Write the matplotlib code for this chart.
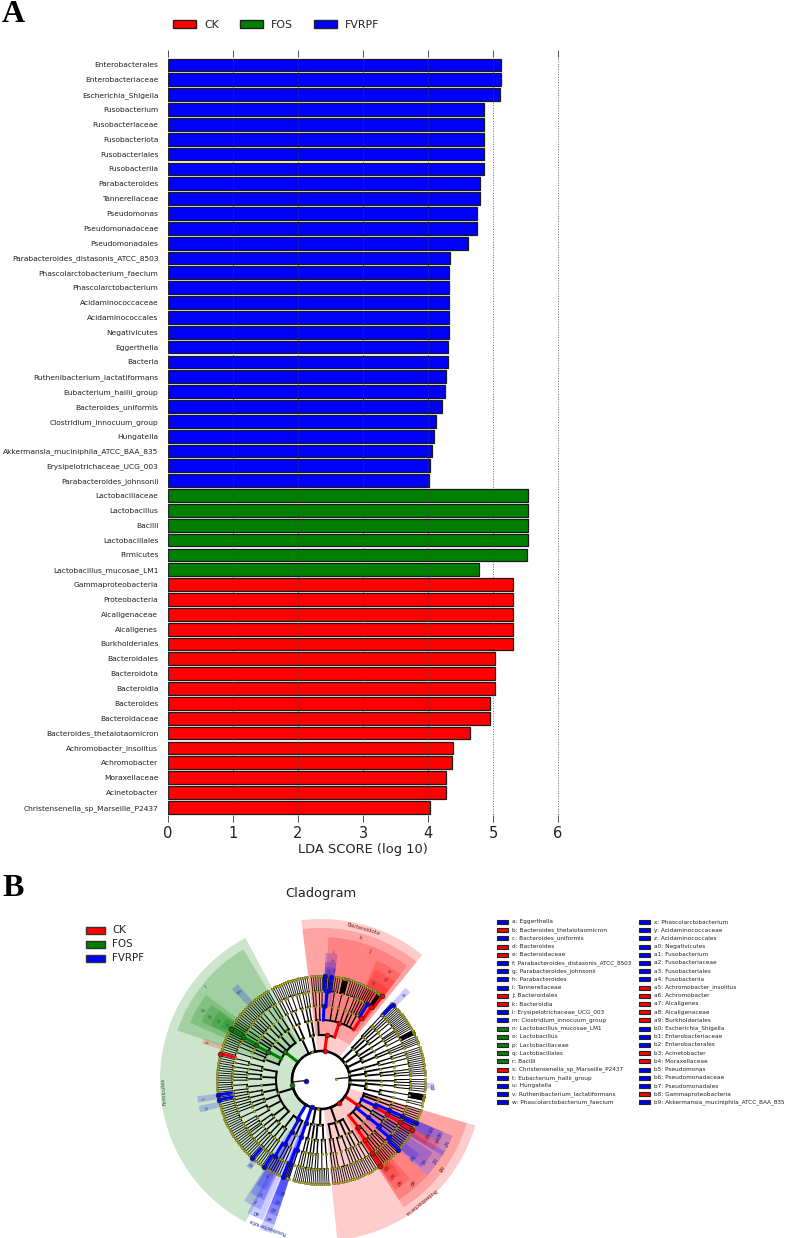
# -*- coding: utf-8 -*-
"""LEfSe LDA score bars (A) and cladogram (B)."""

import numpy as np
import matplotlib
matplotlib.use("Agg")
import matplotlib.pyplot as plt
from matplotlib.patches import Rectangle

WIDTH, HEIGHT = 785, 1238
RED, GREEN, BLUE = "#ff0000", "#008000", "#0000ff"

# -------------------------------------------------------------------
# Panel A data
# -------------------------------------------------------------------
TAXA = [
    "Enterobacterales", "Enterobacteriaceae", "Escherichia_Shigella", "Fusobacterium",
    "Fusobacteriaceae", "Fusobacteriota", "Fusobacteriales", "Fusobacteriia",
    "Parabacteroides", "Tannerellaceae", "Pseudomonas", "Pseudomonadaceae",
    "Pseudomonadales", "Parabacteroides_distasonis_ATCC_8503", "Phascolarctobacterium_faecium",
    "Phascolarctobacterium", "Acidaminococcaceae", "Acidaminococcales", "Negativicutes",
    "Eggerthella", "Bacteria", "Ruthenibacterium_lactatiformans", "Eubacterium_hallii_group",
    "Bacteroides_uniformis", "Clostridium_innocuum_group", "Hungatella",
    "Akkermansia_muciniphila_ATCC_BAA_835", "Erysipelotrichaceae_UCG_003",
    "Parabacteroides_johnsonii",
    "Lactobacillaceae", "Lactobacillus", "Bacilli", "Lactobacillales", "Firmicutes",
    "Lactobacillus_mucosae_LM1",
    "Gammaproteobacteria", "Proteobacteria", "Alcaligenaceae", "Alcaligenes", "Burkholderiales",
    "Bacteroidales", "Bacteroidota", "Bacteroidia", "Bacteroides", "Bacteroidaceae",
    "Bacteroides_thetaiotaomicron", "Achromobacter_insolitus", "Achromobacter", "Moraxellaceae",
    "Acinetobacter", "Christensenella_sp_Marseille_P2437",
]
SCORES_FVRPF = [5.12, 5.12, 5.11, 4.86, 4.86, 4.86, 4.86, 4.86, 4.80, 4.80, 4.75, 4.75, 4.61,
                4.34, 4.32, 4.32, 4.32, 4.32, 4.32, 4.30, 4.30, 4.27, 4.26, 4.22, 4.13, 4.09,
                4.06, 4.03, 4.01]
SCORES_FOS = [5.54, 5.54, 5.54, 5.54, 5.52, 4.78]
SCORES_CK = [5.31, 5.31, 5.30, 5.30, 5.30, 5.03, 5.03, 5.03, 4.96, 4.96, 4.64, 4.39, 4.37,
             4.28, 4.28, 4.03]

# -------------------------------------------------------------------
# Panel B data
# -------------------------------------------------------------------
KEY_1 = ["a: Eggerthella", "b: Bacteroides_thetaiotaomicron", "c: Bacteroides_uniformis",
         "d: Bacteroides", "e: Bacteroidaceae", "f: Parabacteroides_distasonis_ATCC_8503",
         "g: Parabacteroides_johnsonii", "h: Parabacteroides", "i: Tannerellaceae",
         "j: Bacteroidales", "k: Bacteroidia", "l: Erysipelotrichaceae_UCG_003",
         "m: Clostridium_innocuum_group", "n: Lactobacillus_mucosae_LM1", "o: Lactobacillus",
         "p: Lactobacillaceae", "q: Lactobacillales", "r: Bacilli",
         "s: Christensenella_sp_Marseille_P2437", "t: Eubacterium_hallii_group", "u: Hungatella",
         "v: Ruthenibacterium_lactatiformans", "w: Phascolarctobacterium_faecium"]
KEY_1_COLORS = "BRBRRBBBBRRBBGGGGGRBBBB"
KEY_2 = ["x: Phascolarctobacterium", "y: Acidaminococcaceae", "z: Acidaminococcales",
         "a0: Negativicutes", "a1: Fusobacterium", "a2: Fusobacteriaceae", "a3: Fusobacteriales",
         "a4: Fusobacteriia", "a5: Achromobacter_insolitus", "a6: Achromobacter",
         "a7: Alcaligenes", "a8: Alcaligenaceae", "a9: Burkholderiales",
         "b0: Escherichia_Shigella", "b1: Enterobacteriaceae", "b2: Enterobacterales",
         "b3: Acinetobacter", "b4: Moraxellaceae", "b5: Pseudomonas", "b6: Pseudomonadaceae",
         "b7: Pseudomonadales", "b8: Gammaproteobacteria",
         "b9: Akkermansia_muciniphila_ATCC_BAA_835"]
KEY_2_COLORS = "BBBBBBBBRRRRRBBBRRBBBRB"

# node radii per taxonomic level, in pixels
RADII = [29, 45, 60, 74, 89, 104]

# nested: class > order > family > genus (species count, negative = crowded fan)
SECTORS = [
    ("bacteroidota", 53, 96, [[[[-9, 1], [1, 1], [1, 1], [1], [2], [-9], [2], [2, 1]],
                               [[1], [1, 1]]]]),
    ("misc_top", 97, 119, [[[[1, 1]], [[1], [1, 1]]], [[[2, 1], [1]], [[1, 1]]]]),
    ("firmicutes", 120, 247, [
        [[[1, 1], [2]], [[1], [1, 1]], [[1, 1, 1]], [[1], [1]],
         [[1], [1, 1], [1]], [[1], [2]]],
        [[[1, 2], [1]], [[1, 1], [1, 1]], [[2, 1]], [[1, 1], [1, 1]], [[1, 1], [1]],
         [[2], [1, 1]], [[1, 1, 1], [1]], [[1, 1], [1, 1]]],
        [[[1, 1], [1, 1]], [[2, 1]], [[1, 1]]],
    ]),
    ("fusobacteriota", 248, 252.5, [[[[2, 1]]]]),
    ("misc_bottom", 254, 275, [[[[1, 1], [1]], [[1, 1]]], [[[1], [1, 1]], [[2], [1]]]]),
    ("proteobacteria", 276, 344, [
        [[[1, 1], [1]], [[2], [1, 1]], [[1, 1]], [[1], [1, 2]]],
        [[[1, 1], [1, 1]], [[1, 1, 1]], [[2, 1]], [[1, 1], [1]], [[1, 1], [1]],
         [[1, 1]], [[1]]],
    ]),
    ("others_low", 345, 361, [[[[1], [-8]], [[1, 1]]], [[[1, 1]]]]),
    ("others_high", 2, 19, [[[[1, 1], [1]], [[2]]], [[[1], [1, 1]]]]),
    ("actinobacteriota", 20, 48, [[[[1, 1], [1]], [[-8, 1]]],
                                  [[[1, 1, 1]], [[2], [1]]], [[[1, 1]], [[1], [1]]]]),
]

# highlighted nodes: sector -> {path: colour}
MARKED = {
    "bacteroidota": {(): RED, (0,): RED, (0, 0): RED, (0, 0, 0): RED, (0, 0, 0, 0): RED,
                     (0, 0, 0, 0, 0): RED, (0, 0, 0, 1): BLUE, (0, 0, 7): BLUE,
                     (0, 0, 7, 0): BLUE, (0, 0, 7, 0, 0): BLUE, (0, 0, 7, 0, 3): BLUE},
    "firmicutes": {(): GREEN, (0,): GREEN, (0, 4): GREEN, (0, 4, 1): GREEN, (0, 4, 1, 0): GREEN,
                   (0, 4, 1, 0, 0): GREEN, (1, 0, 0, 0, 0): RED, (1, 3, 0, 0, 0): BLUE,
                   (1, 3, 0, 1, 0): BLUE, (2,): BLUE, (2, 1): BLUE, (2, 1, 0): BLUE,
                   (2, 1, 0, 0): BLUE, (2, 1, 0, 0, 0): BLUE, (2, 0, 0, 0, 0): BLUE},
    "fusobacteriota": {(): BLUE, (0,): BLUE, (0, 0): BLUE, (0, 0, 0): BLUE, (0, 0, 0, 0): BLUE,
                       (0, 0, 0, 0, 0): BLUE},
    "proteobacteria": {(): RED, (1,): RED, (1, 0): RED, (1, 0, 0): RED, (1, 0, 0, 0): RED,
                       (1, 0, 0, 0, 0): RED, (1, 2): BLUE, (1, 2, 0): BLUE, (1, 2, 0, 0): BLUE,
                       (1, 2, 0, 0, 0): BLUE, (1, 4): BLUE, (1, 4, 0): RED, (1, 4, 0, 0): RED,
                       (1, 4, 0, 0, 0): RED, (1, 4, 1): BLUE, (1, 4, 1, 0): BLUE,
                       (1, 4, 1, 0, 0): BLUE},
    "others_low": {(0, 0, 0, 1, 0): BLUE},
    "actinobacteriota": {(2, 1, 1, 0, 0): BLUE},
}

# shaded clades: start deg, end deg, inner r, outer r, colour
WEDGES = [
    (118, 242, 29, 161, GREEN), (120.7, 161, 45, 152, GREEN), (143.5, 156.4, 60, 143, GREEN),
    (145.5, 154, 74, 133, GREEN), (146, 153.5, 89, 123, GREEN), (147, 152, 104, 113, GREEN),
    (51, 97, 29, 161, RED), (51, 97, 45, 152, RED), (53, 87, 60, 143, RED),
    (53, 65, 74, 132, RED), (53, 64, 89, 123, RED), (53, 64, 104, 113, RED),
    (82.5, 88, 74, 127, BLUE), (82.5, 88, 89, 118, BLUE), (82.5, 88, 104, 113, BLUE),
    (275.8, 343.6, 29, 161, RED), (303, 343.5, 45, 152, RED), (303, 318, 60, 143, RED),
    (304, 312, 74, 133, RED), (304, 310, 89, 123, RED), (304, 309, 104, 113, RED),
    (318, 330, 60, 143, BLUE), (319, 327, 74, 133, BLUE), (319, 323, 89, 123, BLUE),
    (328, 337, 60, 143, BLUE), (332, 337, 74, 133, BLUE), (332, 337, 89, 123, BLUE),
    (328, 332, 74, 133, RED), (328, 332, 89, 123, RED),
    (247.8, 252.2, 29, 161, BLUE), (247.8, 252.2, 45, 152, BLUE), (248, 252.2, 60, 143, BLUE),
    (248, 252.2, 74, 133, BLUE), (248, 252.2, 89, 123, BLUE),
    (241, 247.5, 45, 152, BLUE), (237.5, 245, 60, 143, BLUE), (238, 244.5, 74, 133, BLUE),
    (238.5, 243.5, 89, 123, BLUE),
    (44.5, 47.5, 104, 125, BLUE), (131, 134.5, 104, 127, BLUE), (160.5, 163, 104, 124, RED),
    (187.5, 190.5, 104, 125, BLUE), (192, 195, 104, 125, BLUE), (229, 232, 104, 114, BLUE),
    (355.5, 358.5, 104, 113, BLUE),
]

# text on the cladogram: label, deg, r, colour
CLADE_TEXT = [
    ("Bacteroidota", 74.5, 157, "#7a1a1a"), ("k", 74.4, 147.5, "#7a1a1a"), ("j", 69.3, 138, "#7a1a1a"),
    ("e", 57.8, 128, "#7a1a1a"), ("d", 57.5, 119, "#7a1a1a"), ("b", 61.8, 109, "#7a1a1a"),
    ("i", 84.6, 128, "#223388"), ("h", 84.7, 119, "#223388"), ("g", 86, 109, "#223388"),
    ("f", 83, 109, "#223388"), ("a", 45.8, 118, "#223388"),
    ("Firmicutes", 184.3, 157, "#2a5a2a"), ("r", 140.8, 148, "#2a5a2a"), ("q", 149.3, 137, "#2a5a2a"),
    ("p", 150, 127.6, "#2a5a2a"), ("o", 149.7, 118, "#2a5a2a"), ("n", 149.2, 108.6, "#2a5a2a"),
    ("m", 132.7, 120, "#223388"), ("s", 161.8, 119, "#7a1a1a"), ("t", 189, 118, "#223388"),
    ("u", 193.6, 118, "#223388"), ("w", 230.4, 109, "#223388"), ("x", 240.7, 109, "#223388"),
    ("y", 242, 128, "#223388"), ("z", 241.4, 137, "#223388"), ("a0", 244, 147, "#223388"),
    ("Fusobacteriota", 249.8, 156, "#223388"), ("a4", 249.5, 147, "#223388"), ("a3", 249.5, 137, "#223388"),
    ("a2", 250, 128, "#223388"), ("a1", 250.8, 118, "#223388"),
    ("Proteobacteria", 309.3, 157, "#7a1a1a"), ("b8", 323.3, 148, "#7a1a1a"), ("a9", 311.5, 137, "#7a1a1a"),
    ("a8", 306.8, 128, "#7a1a1a"), ("a7", 306.7, 118, "#7a1a1a"), ("a6", 306.2, 108, "#7a1a1a"),
    ("b2", 324.4, 137.5, "#223388"), ("b1", 321, 129, "#223388"), ("b0", 319, 118, "#223388"),
    ("b7", 332.7, 139, "#223388"), ("b6", 335, 128, "#223388"), ("b5", 335.1, 118, "#223388"),
    ("b4", 332.5, 129, "#7a1a1a"), ("b3", 332, 118, "#7a1a1a"), ("b9", 356.1, 110, "#223388"),
]


# -------------------------------------------------------------------
# Tree layout
# -------------------------------------------------------------------
def genus_slots(count, index):
    # the first genus of a family carries twice its listed species lines
    scale = 2 if index == 0 else 1
    return 2 * scale if count < 0 else count * scale


def count_slots(node, depth):
    if depth == 3:
        return sum(genus_slots(count, i) for i, count in enumerate(node))
    return sum(count_slots(kid, depth + 1) for kid in node)


def build_tree(node, depth, path, cursor, step):
    """Give every node an angle. Returns node dict and the advanced cursor."""
    kids = []
    if depth == 4:
        slots = genus_slots(node, path[-1])
        if node < 0:
            fan = np.linspace(cursor + 0.2 * slots * step, cursor + 0.8 * slots * step, -2 * node)
        else:
            fan = cursor + (np.arange(slots) + 0.5) * step
        for i, angle in enumerate(fan):
            kids.append({"theta": angle, "depth": 5, "path": path + (i,), "kids": []})
        cursor += slots * step
    else:
        for i, kid in enumerate(node):
            built, cursor = build_tree(kid, depth + 1, path + (i,), cursor, step)
            kids.append(built)
    theta = (kids[0]["theta"] + kids[-1]["theta"]) / 2
    return {"theta": theta, "depth": depth, "path": path, "kids": kids}, cursor


def draw_tree(ax, node, marked):
    r_node = RADII[node["depth"]]
    widths = [1.7, 1.5, 1.3, 1.0, 0.75, 0.6]
    if node["kids"]:
        first, last = node["kids"][0]["theta"], node["kids"][-1]["theta"]
        arc = np.radians(np.linspace(first, last, 30))
        ax.plot(arc, np.full(30, r_node), color="black",
                lw=widths[node["depth"]], zorder=3)
    for kid in node["kids"]:
        angle = np.radians(kid["theta"])
        r_kid = RADII[kid["depth"]]
        colour = marked.get(kid["path"])
        ax.plot([angle, angle], [r_node, r_kid], color=colour or "black",
                lw=2.2 if colour else widths[kid["depth"]], zorder=4 if colour else 3)
        draw_tree(ax, kid, marked)
    colour = marked.get(node["path"])
    if colour:
        ax.plot(np.radians(node["theta"]), r_node, "o", ms=3.4, mfc=colour,
                mec="#222222", mew=0.5, zorder=6)
    else:
        ax.plot(np.radians(node["theta"]), r_node, "o", ms=1.7, mfc="#b5b51e",
                mec="#55551a", mew=0.3, zorder=5)


# -------------------------------------------------------------------
# Figure
# -------------------------------------------------------------------
fig = plt.figure(figsize=(WIDTH / 100, HEIGHT / 100), dpi=100)
plt.rcParams["font.family"] = "DejaVu Sans"

# overlay in pixel coordinates for the legends and panel letters
over = fig.add_axes([0, 0, 1, 1], zorder=5)
over.set_xlim(0, WIDTH)
over.set_ylim(HEIGHT, 0)
over.axis("off")

# panel A
ax = fig.add_axes([168 / WIDTH, 1 - 822 / HEIGHT, 390 / WIDTH, 772 / HEIGHT])
scores = SCORES_FVRPF + SCORES_FOS + SCORES_CK
colors = [BLUE] * len(SCORES_FVRPF) + [GREEN] * len(SCORES_FOS) + [RED] * len(SCORES_CK)
positions = np.arange(len(TAXA))
ax.barh(positions, scores, height=0.86, color=colors, edgecolor="#1a1a1a", linewidth=0.9, zorder=2)
ax.set_xlim(0, 6)
ax.set_ylim(50.99, -1.01)
ax.set_yticks(positions)
ax.set_yticklabels(TAXA, fontsize=5.4, color="#222222")
ax.tick_params(axis="y", length=0, pad=7)
ax.set_xticks(range(7))
ax.tick_params(axis="x", direction="in", length=5, width=0.7, color="#555555",
               top=True, labelsize=10.5, pad=3, labelcolor="#222222")
ax.set_xlabel("LDA SCORE (log 10)", fontsize=9.4, labelpad=1, color="#222222")
ax.grid(axis="x", linestyle=":", color="#444444", linewidth=0.7, alpha=0.8, zorder=3)
for line in ax.get_xgridlines():
    line.set_clip_on(False)
ax.set_axisbelow(False)
for spine in ax.spines.values():
    spine.set_visible(False)

for x_box, x_text, label, colour in [(173, 204, "CK", RED), (240, 271, "FOS", GREEN),
                                     (314, 345, "FVRPF", BLUE)]:
    over.add_patch(Rectangle((x_box, 20), 23, 8, fc=colour, ec="#222222", lw=1))
    over.text(x_text, 24.5, label, fontsize=7.9, va="center", color="#222222")

# panel B
polar = fig.add_axes([151 / WIDTH, 1 - 1250 / HEIGHT, 340 / WIDTH, 340 / HEIGHT],
                     projection="polar", zorder=1)
polar.set_ylim(0, 170)
polar.axis("off")
polar.patch.set_alpha(0)
for start, end, r_in, r_out, colour in WEDGES:
    polar.bar(np.radians((start + end) / 2), r_out - r_in, width=np.radians(end - start),
              bottom=r_in, color=colour, alpha=0.2, linewidth=0, zorder=1)

for name, start, end, classes in SECTORS:
    step = (end - start) / count_slots(classes, 0)
    tree, _ = build_tree(classes, 0, (), start, step)
    draw_tree(polar, tree, MARKED.get(name, {}))

# root ring and the two kingdom nodes
ring = np.radians(np.linspace(0, 360, 200))
polar.plot(ring, np.full(200, RADII[0]), color="black", lw=1.8, zorder=4)
polar.plot(np.radians([182, 184]), [15, 29], color="#222222", lw=1.0, zorder=3)
polar.plot(np.radians([5, 5]), [15, 29], color="#222222", lw=1.0, zorder=3)
polar.plot(np.radians(182), 15, "o", ms=3.4, mfc=BLUE, mec="#222222", mew=0.5, zorder=6)
polar.plot(np.radians(5), 15, "o", ms=1.7, mfc="#b5b51e", mec="#55551a", mew=0.3, zorder=6)

for label, angle, radius, colour in CLADE_TEXT:
    polar.text(np.radians(angle), radius, label, fontsize=3.9 if len(label) > 2 else 3.6,
               rotation=angle - 90, rotation_mode="anchor", ha="center", va="center",
               color=colour, zorder=8)

over.text(321, 893, "Cladogram", fontsize=9.4, ha="center", va="center", color="#222222")
for y_box, label, colour in [(930, "CK", RED), (944, "FOS", GREEN), (958, "FVRPF", BLUE)]:
    over.add_patch(Rectangle((86, y_box - 3.5), 19, 7, fc=colour, ec="#333333", lw=1))
    over.text(112, y_box, label, fontsize=7.4, va="center", color="#222222")

key_colors = {"R": RED, "G": GREEN, "B": BLUE}
for x_box, entries, codes in [(497, KEY_1, KEY_1_COLORS), (639, KEY_2, KEY_2_COLORS)]:
    for row, (entry, code) in enumerate(zip(entries, codes)):
        y = 922 + row * 8.2
        over.add_patch(Rectangle((x_box, y - 2), 11, 4, fc=key_colors[code], ec="#222222", lw=0.8))
        over.text(x_box + 15, y, entry, fontsize=4.15, va="center", color="#222222")

for y, letter in [(15, "A"), (889, "B")]:
    over.text(2, y, letter, fontsize=23, fontweight="bold", family="Liberation Serif",
              va="center", color="black")

fig.savefig("out.png", dpi=100)
